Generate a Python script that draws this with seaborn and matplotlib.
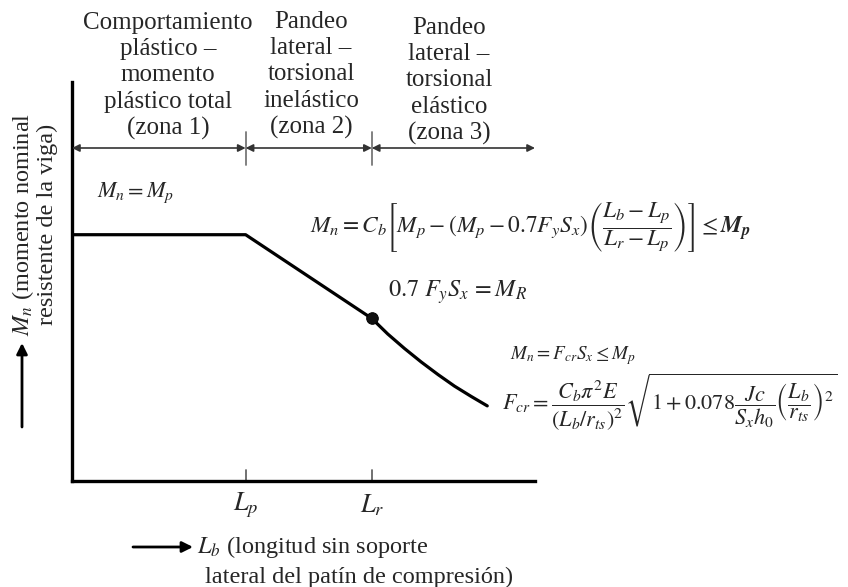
import matplotlib
matplotlib.use("Agg")
import matplotlib.pyplot as plt
import pandas as pd
import seaborn as sns

# Nominal flexural strength vs. unbraced length (M_n in % of M_p, L_b in relative units)
Lb = [0.0, 6.0, 10.36, 10.91, 11.49, 12.07, 12.65, 13.22, 13.80, 14.35]
Mn = [100.0, 100.0, 66.0, 59.7, 53.8, 48.3, 43.2, 38.5, 34.3, 30.5]
Lp = 6.0
Lr = 10.36
Mr = 66.0
x_ticks = [Lp, Lr]
x_tick_labels = ["$L_p$", "$L_r$"]
zone_texts = [
    "Comportamiento\nplástico –\nmomento\nplástico total\n(zona 1)",
    "Pandeo\nlateral –\ntorsional\ninelástico\n(zona 2)",
    "Pandeo\nlateral –\ntorsional\nelástico\n(zona 3)",
]

sns.set_theme(style="white")
plt.rcParams["font.family"] = ["Liberation Serif", "DejaVu Serif"]
plt.rcParams["mathtext.fontset"] = "stix"

W, H = 848, 587
X0, X1, Y0, Y1 = 72, 535, 481, 82          # axes box in pixels
XMAX, YMAX = 16.0, 162.0

fig = plt.figure(figsize=(W / 100, H / 100), dpi=100)
ax = fig.add_axes([X0 / W, (H - Y0) / H, (X1 - X0) / W, (Y0 - Y1) / H])
ax.set_xlim(0, XMAX)
ax.set_ylim(0, YMAX)


def P(px, py):
    """Pixel position on the page -> data coordinates."""
    return ((px - X0) * XMAX / (X1 - X0), (Y0 - py) * YMAX / (Y0 - Y1))


df = pd.DataFrame({"Lb": Lb, "Mn": Mn})
sns.lineplot(data=df, x="Lb", y="Mn", sort=False, color="black", lw=2.3, ax=ax)
for ln in ax.lines:
    ln.set_solid_joinstyle("round")
sns.scatterplot(x=[Lr], y=[Mr], color="#111111", s=70, zorder=5, ax=ax,
                edgecolor="black")

# axes frame
for s in ["top", "right"]:
    ax.spines[s].set_visible(False)
for s in ["left", "bottom"]:
    ax.spines[s].set_linewidth(2.4)
    ax.spines[s].set_color("black")
ax.set_xticks([])
ax.set_yticks([])
ax.set_xlabel("")
ax.set_ylabel("")

# small ticks at L_p and L_r on the length axis
tick_top = P(0, 470)[1]
for xv, lab in zip(x_ticks, x_tick_labels):
    ax.plot([xv, xv], [0, tick_top], color="#666666", lw=1.3, clip_on=False)
    ax.text(xv, P(0, 505)[1], lab, ha="center", va="center", fontsize=19)

# zone dimension lines
ydim = P(0, 148)[1]
edges = [0.0, Lp, Lr, XMAX]
for a, b in zip(edges[:-1], edges[1:]):
    ax.annotate("", xy=(b, ydim), xytext=(a, ydim), annotation_clip=False,
                arrowprops=dict(arrowstyle="<|-|>", color="#333333", lw=1.2,
                                mutation_scale=11, shrinkA=0, shrinkB=0))
for xv in [Lp, Lr]:
    ax.plot([xv, xv], [P(0, 132)[1], P(0, 165)[1]], color="#777777", lw=1.3,
            clip_on=False)

zone_pos = [(168, 76), (311, 75), (449, 81)]
for (px, py), txt in zip(zone_pos, zone_texts):
    x, y = P(px, py)
    ax.text(x, y, txt, ha="center", va="center", multialignment="center",
            fontsize=18, linespacing=1.26, clip_on=False)

# axis titles
x, y = P(34, 224)
ax.text(x, y, "$M_n$ (momento nominal\nresistente de la viga)", rotation=90,
        ha="center", va="center", multialignment="center", fontsize=17.5,
        linespacing=1.05)
ax.annotate("", xy=P(22, 343), xytext=P(22, 427), annotation_clip=False,
            arrowprops=dict(arrowstyle="-|>", color="black", lw=2.0,
                            mutation_scale=16, shrinkA=0, shrinkB=0))
ax.annotate("", xy=P(193, 547), xytext=P(133, 547), annotation_clip=False,
            arrowprops=dict(arrowstyle="-|>", color="black", lw=2.0,
                            mutation_scale=16, shrinkA=0, shrinkB=0))
x, y = P(197, 547)
ax.text(x, y, "$L_b$ (longitud sin soporte", ha="left", va="center",
        fontsize=17.5)
x, y = P(205, 577)
ax.text(x, y, "lateral del patín de compresión)", ha="left", va="center",
        fontsize=17.5)

# strength equations
x, y = P(97, 193)
ax.text(x, y, r"$M_n = M_p$", ha="left", va="center", fontsize=16)

x, y = P(310, 228)
ax.text(x, y,
        r"$M_n = C_b\left[M_p - (M_p - 0.7F_yS_x)\left(\dfrac{L_b - L_p}{L_r - L_p}\right)\right] \leq \boldsymbol{M}_{\boldsymbol{p}}$",
        ha="left", va="center", fontsize=16.8, clip_on=False)

x, y = P(388, 292)
ax.text(x, y, r"$0.7\ F_yS_x\, = M_R$", ha="left", va="center", fontsize=17.5,
        clip_on=False)

x, y = P(510, 356)
ax.text(x, y, r"$M_n = F_{cr}S_x \leq M_p$", ha="left", va="center",
        fontsize=13.8, clip_on=False)

x, y = P(502, 402)
ax.text(x, y,
        r"$F_{cr} = \dfrac{C_b\pi^2E}{(L_b/r_{ts})^2}\sqrt{1 + 0.078\dfrac{Jc}{S_xh_0}\left(\dfrac{L_b}{r_{ts}}\right)^2}$",
        ha="left", va="center", fontsize=16, clip_on=False)

fig.savefig("out.png", dpi=100)
